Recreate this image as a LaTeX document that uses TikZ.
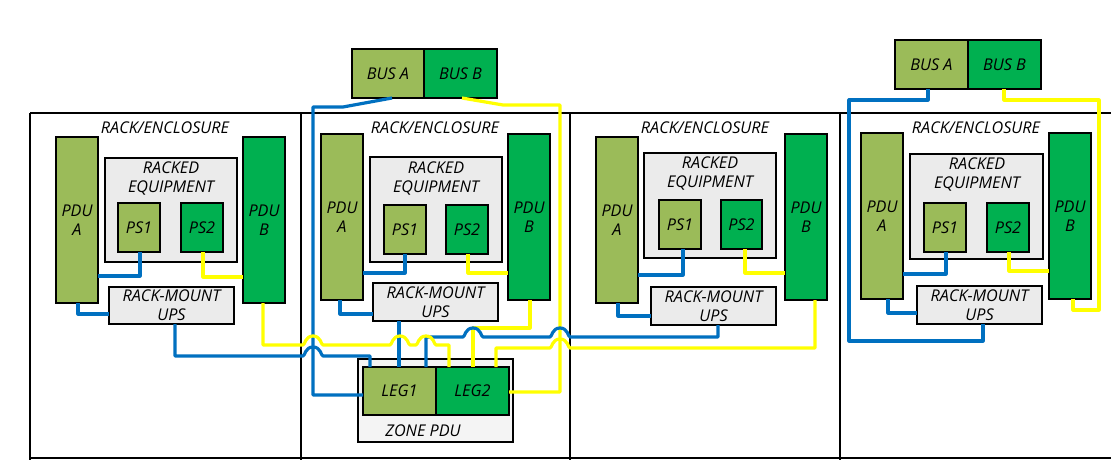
\documentclass[tikz,border=0pt]{standalone}
\usepackage{fontspec}
\setmainfont{Open Sans}
\definecolor{lgreen}{HTML}{9BBB59}
\definecolor{dgreen}{HTML}{00B050}
\definecolor{wblue}{HTML}{0070C0}
\definecolor{wyellow}{HTML}{FFFF00}
\definecolor{lgray}{HTML}{EBEBEB}
\definecolor{zgray}{HTML}{F4F4F4}
\newcommand{\boxn}[7]{\node[#6,anchor=north west,minimum width={#4-#2},minimum height={#5-#3}] (#1) at (#2,#3) {#7};}
\newcommand{\hmp}[2]{-- ({#1-10},#2) .. controls ({#1-8},#2) and ({#1-8},{#2-9}) .. (#1,{#2-9}) .. controls ({#1+8},{#2-9}) and ({#1+8},#2) .. ({#1+10},#2)}
\newcommand{\hmpl}[2]{-- ({#1+10},#2) .. controls ({#1+8},#2) and ({#1+8},{#2-9}) .. (#1,{#2-9}) .. controls ({#1-8},{#2-9}) and ({#1-8},#2) .. ({#1-10},#2)}
\tikzset{
  base/.style={draw=black,line width=1.6pt,inner sep=0pt,outer sep=0pt,align=center,text=black,
    font=\fontsize{16.2}{19}\selectfont\itshape},
  pa/.style={base,fill=lgreen},
  pb/.style={base,fill=dgreen},
  eq/.style={base,fill=lgray},
  zone/.style={base,fill=zgray,line width=1.2pt},
  lbl/.style={inner sep=0pt,outer sep=0pt,align=center,text=black,
    font=\fontsize{16.2}{19}\selectfont\itshape},
  bw/.style={draw=wblue,line width=3.2pt,line join=round},
  yw/.style={draw=wyellow,line width=3.2pt,line join=round},
  frame/.style={draw=black,line width=1.6pt}
}
\begin{document}
\begin{tikzpicture}[x=1pt,y=-1pt]
\useasboundingbox[fill=white] (0,0) rectangle (1111,465);
% frames
\draw[frame] (30,113) -- (1111,113);
\draw[frame] (30,458) -- (1111,458);
\foreach \fx in {30,301,570,840} {\draw[frame] (\fx,113) -- (\fx,460);}
% rack 1
\node[lbl] (t1) at (165,127.5) {RACK/ENCLOSURE};
\boxn{a1}{56}{137}{98}{303}{pa}{PDU\\A}
\boxn{b1}{243}{137}{285}{303}{pb}{PDU\\B}
\boxn{r1}{105}{158}{237}{262}{eq}{}
\node[lbl] (q1) at (171,178.5) {RACKED\\EQUIPMENT};
\boxn{s1}{118}{203}{160}{252}{pa}{PS1}
\boxn{p1}{181}{203}{223}{252}{pb}{PS2}
\boxn{u1}{109}{287}{234}{324}{eq}{RACK-MOUNT\\UPS}
% rack 2
\node[lbl] (t2) at (435,127.5) {RACK/ENCLOSURE};
\boxn{a2}{321}{134}{363}{300}{pa}{PDU\\A}
\boxn{b2}{508}{134}{550}{300}{pb}{PDU\\B}
\boxn{r2}{370}{157}{502}{262}{eq}{}
\node[lbl] (q2) at (436,178.5) {RACKED\\EQUIPMENT};
\boxn{s2}{384}{205}{426}{254}{pa}{PS1}
\boxn{p2}{446}{205}{488}{254}{pb}{PS2}
\boxn{u2}{373}{283}{498}{321}{eq}{RACK-MOUNT\\UPS}
% rack 3
\node[lbl] (t3) at (705,127.5) {RACK/ENCLOSURE};
\boxn{a3}{596}{137}{638}{303}{pa}{PDU\\A}
\boxn{b3}{785}{134}{827}{300}{pb}{PDU\\B}
\boxn{r3}{644}{153}{776}{258}{eq}{}
\node[lbl] (q3) at (710,173.5) {RACKED\\EQUIPMENT};
\boxn{s3}{659}{200}{701}{249}{pa}{PS1}
\boxn{p3}{721}{200}{762}{249}{pb}{PS2}
\boxn{u3}{651}{287}{776}{325}{eq}{RACK-MOUNT\\UPS}
% rack 4
\node[lbl] (t4) at (976,127.5) {RACK/ENCLOSURE};
\boxn{a4}{861}{133}{903}{299}{pa}{PDU\\A}
\boxn{b4}{1049}{133}{1091}{299}{pb}{PDU\\B}
\boxn{r4}{910}{154}{1043}{259}{eq}{}
\node[lbl] (q4) at (977,174.5) {RACKED\\EQUIPMENT};
\boxn{s4}{924}{203}{966}{252}{pa}{PS1}
\boxn{p4}{987}{203}{1029}{252}{pb}{PS2}
\boxn{u4}{917}{286}{1042}{324}{eq}{RACK-MOUNT\\UPS}
% buses
\boxn{ba1}{352}{49}{424}{98}{pa}{BUS A}
\boxn{bb1}{424}{49}{497}{98}{pb}{BUS B}
\boxn{ba2}{895}{40}{968}{89}{pa}{BUS A}
\boxn{bb2}{968}{40}{1041}{89}{pb}{BUS B}
% zone pdu
\boxn{z}{358}{359}{513}{442}{zone}{}
\node[lbl] (zl) at (423,431) {ZONE PDU};
\boxn{l1}{363}{367}{436}{415}{pa}{LEG1}
\boxn{l2}{436}{367}{509}{415}{pb}{LEG2}
% yellow under blue
\draw[yw] (462,0 |- bb1.south) -- (503,105) -- (560,105) -- (560,392) -- (l2.east |- 0,392);
\draw[yw] (530,0 |- b2.south) -- (530,328) -- (473,328) -- (473,0 |- l2.north);
% blue
\draw[bw] (392,0 |- ba1.south) -- (343,107) -- (313,107) -- (313,395) -- (l1.west |- 0,395);
\draw[bw] (175,0 |- u1.south) -- (175,356) \hmp{313}{356} -- (370,356) -- (370,0 |- l1.north);
\draw[bw] (399,0 |- u2.south) -- (399,0 |- l1.north);
\draw[bw] (718,0 |- u3.south) -- (718,337) \hmpl{560}{337} \hmpl{473}{337} -- (426,337) -- (426,0 |- l1.north);
\draw[bw] (a1.east |- 0,276) -- (140,276) -- (140,0 |- s1.south);
\draw[bw] (78,0 |- a1.south) -- (78,314) -- (u1.west |- 0,314);
\draw[bw] (a2.east |- 0,273) -- (405,273) -- (405,0 |- s2.south);
\draw[bw] (340,0 |- a2.south) -- (340,314) -- (u2.west |- 0,314);
\draw[bw] (a3.east |- 0,275) -- (683,275) -- (683,0 |- s3.south);
\draw[bw] (618,0 |- a3.south) -- (618,316) -- (u3.west |- 0,316);
\draw[bw] (a4.east |- 0,274) -- (946,274) -- (946,0 |- s4.south);
\draw[bw] (888,0 |- a4.south) -- (888,313) -- (u4.west |- 0,313);
\draw[bw] (928,0 |- ba2.south) -- (928,100) -- (849,100) -- (849,341) -- (983,341) -- (983,0 |- u4.south);
% yellow on top
\draw[yw] (263,0 |- b1.south) -- (263,345) \hmp{313}{345} \hmp{400}{345} \hmp{426}{345} -- (449,345) -- (449,0 |- l2.north);
\draw[yw] (815,0 |- b3.south) -- (815,348) \hmpl{560}{348} -- (496,348) -- (496,0 |- l2.north);
\draw[yw] (203,0 |- p1.south) -- (203,277) -- (b1.west |- 0,277);
\draw[yw] (468,0 |- p2.south) -- (468,273) -- (b2.west |- 0,273);
\draw[yw] (745,0 |- p3.south) -- (745,273) -- (b3.west |- 0,273);
\draw[yw] (1009,0 |- p4.south) -- (1009,271) -- (b4.west |- 0,271);
\draw[yw] (1073,0 |- b4.south) -- (1073,310) -- (1099,310) -- (1099,100) -- (1004,100) -- (1004,0 |- bb2.south);
\end{tikzpicture}
\end{document}
